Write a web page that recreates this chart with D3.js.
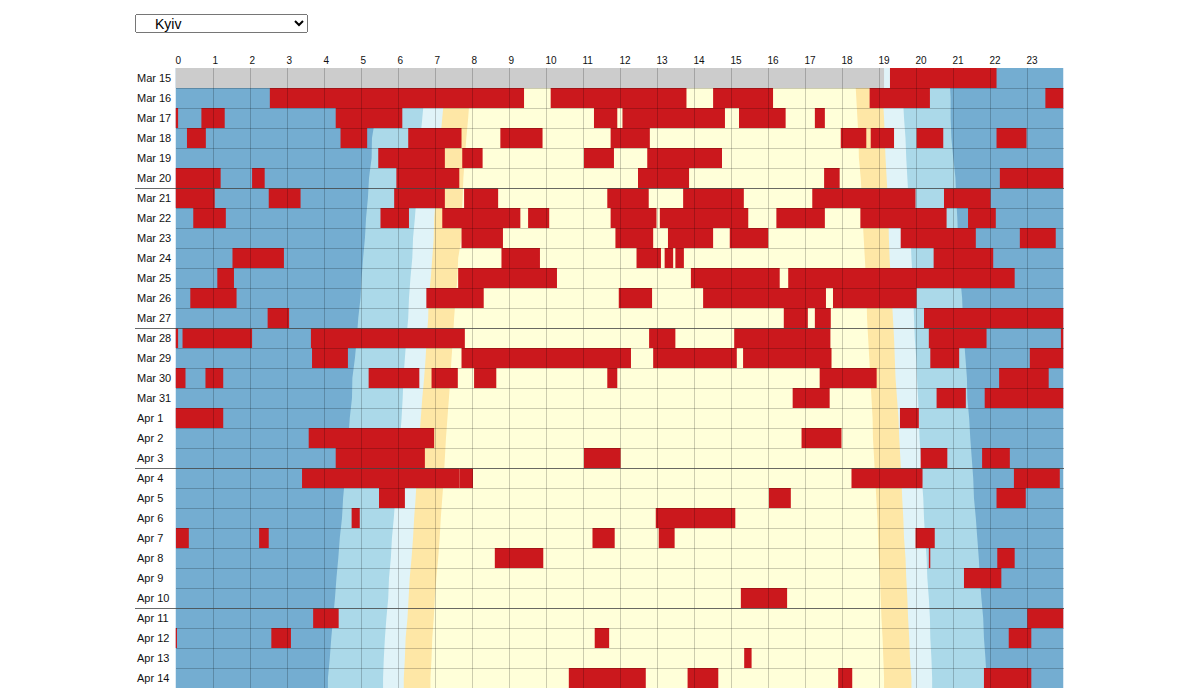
<!DOCTYPE html>
<html>
<head>
<meta charset="utf-8">
<script src="https://cdn.jsdelivr.net/npm/d3@7"></script>
<style>
  body { margin: 0; background: #fff; font-family: Arial, "Liberation Sans", sans-serif; }
  #city { position: absolute; left: 135px; top: 14px; width: 173px; height: 19px;
          font-family: Arial, "Liberation Sans", sans-serif; font-size: 14px; padding: 0 0 0 15px; }
  svg { position: absolute; left: 0; top: 0; }
</style>
</head>
<body>
<select id="city">
  <option>Kyiv</option>
  <option>Kharkiv</option>
  <option>Lviv</option>
  <option>Odesa</option>
</select>
<svg width="1200" height="688"></svg>
<script>
// days shown, one row each
var days = ["Mar 15","Mar 16","Mar 17","Mar 18","Mar 19","Mar 20","Mar 21","Mar 22","Mar 23","Mar 24",
            "Mar 25","Mar 26","Mar 27","Mar 28","Mar 29","Mar 30","Mar 31","Apr 1","Apr 2","Apr 3",
            "Apr 4","Apr 5","Apr 6","Apr 7","Apr 8","Apr 9","Apr 10","Apr 11","Apr 12","Apr 13","Apr 14"];
var weekStarts = ["Mar 21","Mar 28","Apr 4","Apr 11"];
var hours = d3.range(0, 24);

// sun phases (hour of day), morning
var dawn1 = [5.48,5.44,5.40,5.31,5.30,5.23,5.20,5.15,5.12,5.07,5.03,5.00,4.94,4.90,4.85,4.78,4.77,4.71,4.67,4.62,4.58,4.53,4.50,4.44,4.40,4.35,4.31,4.26,4.21,4.17,4.12];
var dawn2 = [6.76,6.72,6.67,6.62,6.58,6.55,6.51,6.47,6.42,6.40,6.35,6.31,6.29,6.24,6.20,6.16,6.14,6.11,6.07,6.03,5.98,5.94,5.90,5.85,5.82,5.77,5.75,5.70,5.66,5.63,5.61];
var dawn3 = [7.30,7.26,7.21,7.16,7.12,7.08,7.04,6.99,6.98,6.94,6.90,6.84,6.83,6.79,6.76,6.72,6.67,6.63,6.59,6.55,6.52,6.49,6.45,6.42,6.38,6.33,6.30,6.27,6.22,6.20,6.17];
var sunrise = [7.99,7.95,7.91,7.86,7.82,7.78,7.76,7.73,7.73,7.64,7.62,7.57,7.53,7.50,7.46,7.43,7.39,7.35,7.31,7.28,7.25,7.21,7.17,7.14,7.10,7.05,7.01,6.98,6.94,6.92,6.89];
// evening
var sunset = [18.37,18.40,18.43,18.46,18.47,18.52,18.55,18.57,18.60,18.63,18.66,18.68,18.69,18.72,18.75,18.78,18.81,18.84,18.85,18.88,18.91,18.94,18.97,18.99,19.01,19.04,19.06,19.08,19.11,19.13,19.15];
var dusk1 = [19.09,19.12,19.15,19.17,19.19,19.22,19.25,19.27,19.28,19.30,19.33,19.36,19.39,19.42,19.44,19.46,19.50,19.54,19.56,19.59,19.62,19.64,19.67,19.69,19.73,19.75,19.78,19.80,19.83,19.85,19.89];
var dusk2 = [19.63,19.66,19.69,19.73,19.75,19.78,19.81,19.84,19.87,19.89,19.92,19.94,19.96,19.98,20.02,20.04,20.07,20.09,20.11,20.14,20.17,20.21,20.23,20.26,20.30,20.32,20.36,20.39,20.40,20.43,20.45];
var dusk3 = [20.92,20.95,20.95,20.97,21.02,21.08,21.10,21.13,21.15,21.18,21.21,21.26,21.28,21.31,21.35,21.39,21.40,21.45,21.48,21.52,21.56,21.58,21.63,21.67,21.71,21.74,21.78,21.83,21.85,21.89,21.92];

// no data before this hour on the first day
var noDataUntil = ["Mar 15", 19.15];

// air raid alerts: day, start hour, end hour
var alerts = [
  ["Mar 15",19.31,22.19],
  ["Mar 16",2.55,9.42],["Mar 16",10.14,13.81],["Mar 16",14.53,16.15],["Mar 16",18.76,20.39],["Mar 16",23.51,24],
  ["Mar 17",0,0.07],["Mar 17",0.70,1.33],["Mar 17",4.33,6.13],["Mar 17",11.31,11.94],["Mar 17",12.08,14.85],["Mar 17",15.23,16.49],["Mar 17",17.28,17.55],
  ["Mar 18",0.31,0.82],["Mar 18",4.46,5.18],["Mar 18",6.29,7.73],["Mar 18",8.78,9.92],["Mar 18",11.76,12.82],["Mar 18",17.98,18.67],["Mar 18",18.79,19.42],["Mar 18",20.03,20.75],["Mar 18",22.19,23.0],
  ["Mar 19",5.48,7.28],["Mar 19",7.75,8.30],["Mar 19",11.04,11.85],["Mar 19",12.75,14.77],
  ["Mar 20",0,1.22],["Mar 20",2.07,2.41],["Mar 20",5.97,7.67],["Mar 20",12.50,13.88],["Mar 20",17.53,17.95],["Mar 20",22.28,24],
  ["Mar 21",0,1.06],["Mar 21",2.52,3.38],["Mar 21",5.91,7.28],["Mar 21",7.80,8.72],["Mar 21",11.67,12.79],["Mar 21",13.72,15.36],["Mar 21",17.21,20.0],["Mar 21",20.77,22.03],
  ["Mar 22",0.48,1.36],["Mar 22",5.54,6.31],["Mar 22",7.21,9.32],["Mar 22",9.53,10.10],["Mar 22",11.76,13.0],["Mar 22",13.09,15.48],["Mar 22",16.24,17.55],["Mar 22",18.51,20.84],["Mar 22",21.42,22.17],
  ["Mar 23",7.73,8.85],["Mar 23",11.89,12.91],["Mar 23",13.31,14.53],["Mar 23",14.98,16.02],["Mar 23",19.60,21.63],["Mar 23",22.82,23.79],
  ["Mar 24",1.54,2.93],["Mar 24",8.81,9.85],["Mar 24",12.46,13.12],["Mar 24",13.22,13.45],["Mar 24",13.51,13.74],["Mar 24",20.49,22.10],
  ["Mar 25",1.13,1.58],["Mar 25",7.64,10.31],["Mar 25",13.93,16.33],["Mar 25",16.56,22.68],
  ["Mar 26",0.40,1.65],["Mar 26",6.78,8.33],["Mar 26",11.98,12.88],["Mar 26",14.26,17.58],["Mar 26",17.77,20.03],
  ["Mar 27",2.49,3.07],["Mar 27",16.44,17.09],["Mar 27",17.28,17.71],["Mar 27",20.23,24],
  ["Mar 28",0,0.07],["Mar 28",0.19,2.07],["Mar 28",3.66,7.82],["Mar 28",12.80,13.51],["Mar 28",15.10,17.70],["Mar 28",20.36,21.92],["Mar 28",23.93,24],
  ["Mar 29",3.69,4.66],["Mar 29",7.73,12.31],["Mar 29",12.91,15.17],["Mar 29",15.34,17.73],["Mar 29",20.40,21.18],["Mar 29",23.09,24],
  ["Mar 30",0,0.27],["Mar 30",0.81,1.29],["Mar 30",5.22,6.59],["Mar 30",6.92,7.63],["Mar 30",8.07,8.67],["Mar 30",11.67,11.94],["Mar 30",17.41,18.95],["Mar 30",22.26,23.60],
  ["Mar 31",16.68,17.68],["Mar 31",20.57,21.36],["Mar 31",21.87,24],
  ["Apr 1",0,1.29],["Apr 1",19.58,20.09],
  ["Apr 2",3.60,6.99],["Apr 2",16.92,18.0],
  ["Apr 3",4.33,6.74],["Apr 3",11.04,12.03],["Apr 3",20.14,20.86],["Apr 3",21.80,22.55],
  ["Apr 4",3.42,7.68],["Apr 4",7.68,8.04],["Apr 4",18.27,20.19],["Apr 4",22.66,23.90],
  ["Apr 5",5.50,6.20],["Apr 5",16.04,16.63],["Apr 5",22.19,22.98],
  ["Apr 6",4.76,4.98],["Apr 6",12.98,13.96],["Apr 6",13.96,15.13],
  ["Apr 7",0.01,0.36],["Apr 7",2.26,2.52],["Apr 7",11.27,11.87],["Apr 7",13.06,13.49],["Apr 7",20.0,20.52],
  ["Apr 8",8.63,9.94],["Apr 8",20.36,20.40],["Apr 8",22.21,22.68],
  ["Apr 9",21.31,22.32],
  ["Apr 10",15.28,16.53],
  ["Apr 11",3.72,4.41],["Apr 11",23.02,24],
  ["Apr 12",0,0.04],["Apr 12",2.59,3.12],["Apr 12",11.33,11.72],["Apr 12",22.52,23.13],
  ["Apr 13",15.37,15.57],
  ["Apr 14",10.63,12.71],["Apr 14",13.84,14.67],["Apr 14",17.91,18.29],["Apr 14",21.85,23.13]
];

var colors = {
  night: "#74add1", astro: "#abd9e9", naut: "#e0f3f8", civil: "#fee7a6",
  day: "#ffffd9", alert: "#cb181d", nodata: "#cccccc"
};

var svg = d3.select("svg");
var marginLeft = 175.5, marginTop = 68, plotWidth = 888, rowHeight = 20;

var x = d3.scaleLinear().domain([0, 24]).range([marginLeft, marginLeft + plotWidth]);
var y = d3.scaleBand().domain(days).range([marginTop, marginTop + days.length * rowHeight]);
var bw = y.bandwidth();
var plotBottom = marginTop + days.length * bw;

svg.append("clipPath").attr("id", "plot")
  .append("rect").attr("x", marginLeft).attr("y", marginTop)
  .attr("width", plotWidth).attr("height", plotBottom - marginTop);

var container = svg.append("g").attr("clip-path", "url(#plot)");

// night background
container.append("rect")
  .attr("x", marginLeft).attr("y", marginTop)
  .attr("width", plotWidth).attr("height", plotBottom - marginTop)
  .attr("fill", colors.night);

// nested twilight / day bands, one point per row
function bandPoints(from, to) {
  var n = days.length;
  var pts = days.map(function(d, i) { return { y: y(d) + bw / 2, a: from[i], b: to[i] }; });
  pts.unshift({ y: y(days[0]), a: from[0], b: to[0] });
  pts.push({ y: y(days[n - 1]) + bw, a: from[n - 1], b: to[n - 1] });
  return pts;
}

var area = d3.area()
  .y(function(d) { return d.y; })
  .x0(function(d) { return x(d.a); })
  .x1(function(d) { return x(d.b); });

var bands = [
  { from: dawn1, to: dusk3, color: colors.astro },
  { from: dawn2, to: dusk2, color: colors.naut },
  { from: dawn3, to: dusk1, color: colors.civil },
  { from: sunrise, to: sunset, color: colors.day }
];

container.append("g").attr("class", "sun")
  .selectAll("path")
  .data(bands)
  .enter().append("path")
  .attr("d", function(b) { return area(bandPoints(b.from, b.to)); })
  .attr("fill", function(b) { return b.color; });

// before data starts
container.append("rect")
  .attr("x", x(0)).attr("y", y(noDataUntil[0]))
  .attr("width", x(noDataUntil[1]) - x(0)).attr("height", bw)
  .attr("fill", colors.nodata);

// alerts
container.append("g").attr("class", "alerts")
  .selectAll("rect")
  .data(alerts)
  .enter().append("rect")
  .attr("x", function(d) { return x(d[1]); })
  .attr("y", function(d) { return y(d[0]); })
  .attr("width", function(d) { return x(d[2]) - x(d[1]); })
  .attr("height", bw)
  .attr("fill", colors.alert);

// grid
var grid = svg.append("g").attr("class", "grid")
  .attr("stroke", "#000").attr("stroke-opacity", 0.2).attr("shape-rendering", "crispEdges");

grid.selectAll("line.v")
  .data(d3.range(1, 24))
  .enter().append("line")
  .attr("class", "v")
  .attr("x1", function(h) { return Math.round(x(h)) + 0.5; })
  .attr("x2", function(h) { return Math.round(x(h)) + 0.5; })
  .attr("y1", marginTop).attr("y2", plotBottom);

grid.selectAll("line.h")
  .data(days.slice(1).filter(function(d) { return weekStarts.indexOf(d) < 0; }))
  .enter().append("line")
  .attr("class", "h")
  .attr("x1", marginLeft).attr("x2", marginLeft + plotWidth)
  .attr("y1", function(d) { return y(d) + 0.5; })
  .attr("y2", function(d) { return y(d) + 0.5; });

// week separators
svg.append("g")
  .selectAll("line")
  .data(weekStarts)
  .enter().append("line")
  .attr("x1", 135).attr("x2", marginLeft + plotWidth)
  .attr("y1", function(d) { return y(d) + 0.5; })
  .attr("y2", function(d) { return y(d) + 0.5; })
  .attr("stroke", "#444").attr("stroke-opacity", 0.8)
  .attr("shape-rendering", "crispEdges");

// hour labels on top
svg.append("g")
  .selectAll("text")
  .data(hours)
  .enter().append("text")
  .attr("x", function(h) { return x(h); })
  .attr("y", 64)
  .attr("font-size", "10px")
  .attr("fill", "#111")
  .text(function(h) { return h; });

// day labels
svg.append("g")
  .selectAll("text")
  .data(days)
  .enter().append("text")
  .attr("x", 137)
  .attr("y", function(d) { return y(d) + bw / 2 + 4; })
  .attr("font-size", "11px")
  .attr("fill", "#111")
  .text(function(d) { return d; });
</script>
</body>
</html>
